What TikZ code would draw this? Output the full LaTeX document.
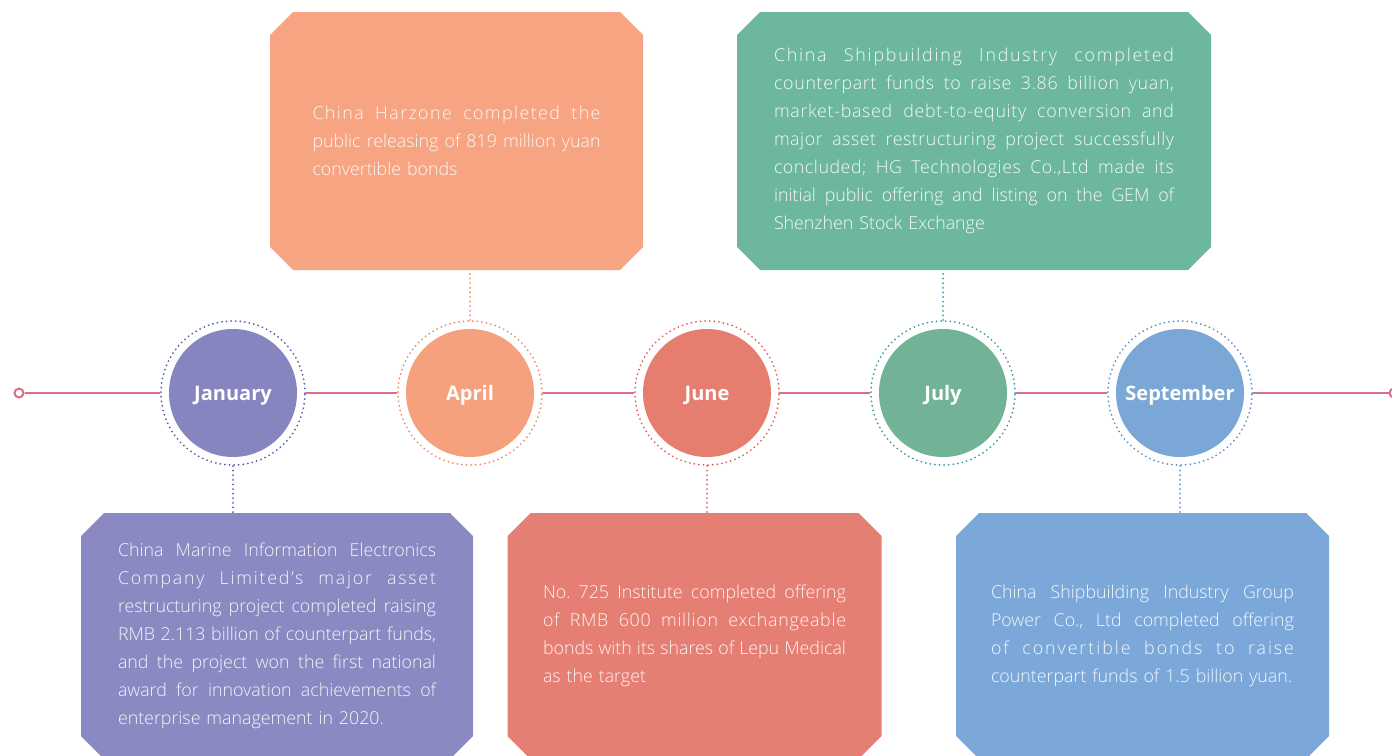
\documentclass[tikz,border=0pt]{standalone}
\usepackage{fontspec}
\setmainfont{Open Sans}
\newfontfamily\lightface{Open Sans Light}
\usetikzlibrary{shapes.misc}
\definecolor{timeline}{HTML}{D9708A}
\definecolor{janfill}{HTML}{8785BF}
\definecolor{janbox}{HTML}{8A89C1}
\definecolor{jandots}{HTML}{5B5BB0}
\definecolor{aprfill}{HTML}{F6A17D}
\definecolor{aprbox}{HTML}{F6A482}
\definecolor{aprdots}{HTML}{F08A62}
\definecolor{junfill}{HTML}{E67E6F}
\definecolor{junbox}{HTML}{E67F73}
\definecolor{jundots}{HTML}{E0605A}
\definecolor{julfill}{HTML}{72B296}
\definecolor{julbox}{HTML}{6DB89C}
\definecolor{juldots}{HTML}{3A98AA}
\definecolor{sepfill}{HTML}{7AA7D6}
\definecolor{sepbox}{HTML}{7BA8D8}
\definecolor{sepdots}{HTML}{5B8FD0}
\newcommand{\fullline}[2][0]{\makebox[\linewidth][s]{\addfontfeatures{LetterSpace=#1}\frenchspacing\spaceskip=0pt\xspaceskip=0pt\relax #2}\\}

\begin{document}
\begin{tikzpicture}[x=0.5pt,y=-0.5pt,
	event/.style={chamfered rectangle,chamfered rectangle xsep=5.75pt,chamfered rectangle ysep=5.75pt,inner sep=0pt,text=white,text opacity=0.92,font=\lightface\fontsize{8.9}{14}\selectfont\frenchspacing,align=left},
	ring/.style={circle,minimum size=72pt,inner sep=0pt,fill=white,line width=1pt,dash pattern=on 0pt off 2.3pt,line cap=round},
	month/.style={circle,minimum size=64pt,inner sep=0pt,text=white,text height=10pt,text depth=2.8pt,font=\fontsize{10}{12}\selectfont\bfseries},
	link/.style={line width=1pt,dash pattern=on 0pt off 2.3pt,line cap=round},
	endcap/.style={circle,draw=timeline,fill=white,line width=1pt,minimum size=4.5pt,inner sep=0pt}]
	\useasboundingbox (0,0) rectangle (1392,755);
	\clip (0,0) rectangle (1392,755);

	\node[event,fill=aprbox,minimum width=186.5pt,minimum height=129pt,text width=144pt] (aprbox) at (456.5,141) {\fullline[8]{China Harzone completed the}\fullline{public releasing of 819 million yuan}convertible bonds};
	\node[event,fill=julbox,minimum width=237pt,minimum height=129pt,text width=200pt] (julbox) at (974,141) {\fullline[10]{China Shipbuilding Industry completed}\fullline[4]{counterpart funds to raise 3.86 billion yuan,}\fullline[4]{market-based debt-to-equity conversion and}\fullline[3]{major asset restructuring project successfully}\fullline[3]{concluded; HG Technologies Co.,Ltd made its}\fullline{initial public offering and listing on the GEM of}Shenzhen Stock Exchange};
	\node[event,fill=janbox,minimum width=196pt,minimum height=123pt,text width=159pt] (janbox) at (277,636) {\fullline{China Marine Information Electronics}\fullline[10]{Company Limited’s major asset}\fullline{restructuring project completed raising}\fullline{RMB 2.113 billion of counterpart funds,}\fullline{and the project won the first national}\fullline{award for innovation achievements of}enterprise management in 2020.};
	\node[event,fill=junbox,minimum width=187pt,minimum height=123pt,text width=151.5pt] (junbox) at (694.5,636) {\fullline{No. 725 Institute completed offering}\fullline[4]{of RMB 600 million exchangeable}\fullline{bonds with its shares of Lepu Medical}as the target};
	\node[event,fill=sepbox,minimum width=186.5pt,minimum height=123pt,text width=151.5pt] (sepbox) at (1142.5,636) {\fullline{China Shipbuilding Industry Group}\fullline{Power Co., Ltd completed offering}\fullline[11]{of convertible bonds to raise}counterpart funds of 1.5 billion yuan.};

	\node[ring,draw=jandots] (janring) at (233,393) {};
	\node[ring,draw=aprdots] (aprring) at (470,393) {};
	\node[ring,draw=jundots] (junring) at (707,393) {};
	\node[ring,draw=juldots] (julring) at (943,393) {};
	\node[ring,draw=sepdots] (sepring) at (1180,393) {};
	\node[month,fill=janfill] (jan) at (janring) {January};
	\node[month,fill=aprfill] (apr) at (aprring) {April};
	\node[month,fill=junfill] (jun) at (junring) {June};
	\node[month,fill=julfill] (jul) at (julring) {July};
	\node[month,fill=sepfill] (sep) at (sepring) {September};
	\node[endcap] (lend) at (19,393) {};
	\node[endcap] (rend) at (1394,393) {};

	\draw[timeline,line width=1pt] (lend) -- (janring);
	\draw[timeline,line width=1pt] (janring) -- (aprring);
	\draw[timeline,line width=1pt] (aprring) -- (junring);
	\draw[timeline,line width=1pt] (junring) -- (julring);
	\draw[timeline,line width=1pt] (julring) -- (sepring);
	\draw[timeline,line width=1pt] (sepring) -- (rend);

	\draw[link,jandots] (janring.south) -- (janring.south |- janbox.north);
	\draw[link,aprdots] (aprring.north) -- (aprring.north |- aprbox.south);
	\draw[link,jundots] (junring.south) -- (junring.south |- junbox.north);
	\draw[link,juldots] (julring.north) -- (julring.north |- julbox.south);
	\draw[link,sepdots] (sepring.south) -- (sepring.south |- sepbox.north);
\end{tikzpicture}
\end{document}
